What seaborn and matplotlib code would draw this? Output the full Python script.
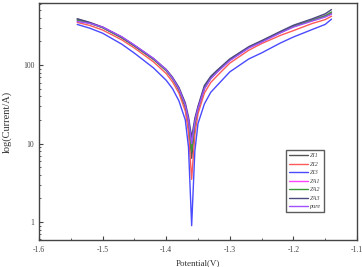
import matplotlib
matplotlib.use('Agg')
import matplotlib.pyplot as plt
from matplotlib.ticker import FixedLocator, FixedFormatter, MultipleLocator, LogLocator, NullFormatter
import seaborn as sns
import pandas as pd
import numpy as np

# potential (V)
potential = [-1.54, -1.52, -1.50, -1.47, -1.45, -1.42, -1.40, -1.39, -1.38, -1.37, -1.365, -1.36,
             -1.355, -1.35, -1.34, -1.33, -1.32, -1.30, -1.27, -1.25, -1.22, -1.20, -1.17, -1.15, -1.14]

ZI1 = [385, 345, 300, 222, 175, 118, 85, 67, 48, 29, 18, 6.5, 17, 27, 50, 68, 82, 116, 168, 200, 262, 310, 372, 418, 460]
ZI2 = [350, 320, 280, 210, 165, 110, 78, 61, 44, 26, 14, 3.5, 13, 24, 44, 60, 73, 106, 155, 188, 240, 275, 340, 380, 420]
ZI3 = [330, 295, 255, 185, 142, 92, 64, 50, 35, 20, 9, 0.9, 8, 18, 32, 45, 55, 82, 120, 143, 192, 228, 285, 330, 385]
ZA1 = [370, 345, 305, 228, 178, 120, 86, 68, 50, 31, 20, 9, 19, 29, 52, 70, 84, 118, 170, 202, 265, 315, 380, 430, 470]
ZA2 = [375, 340, 300, 225, 176, 119, 85, 67, 49, 30, 20, 8, 18, 28, 51, 69, 83, 117, 168, 200, 262, 312, 375, 425, 475]
ZA3 = [390, 350, 305, 228, 178, 121, 88, 70, 52, 33, 22, 12, 21, 30, 55, 72, 86, 120, 172, 205, 270, 322, 390, 450, 510]
pure = [360, 340, 305, 230, 180, 122, 87, 68, 50, 31, 20, 10, 19, 28, 50, 67, 81, 114, 165, 196, 258, 305, 365, 410, 445]

series_names = ['ZI1', 'ZI2', 'ZI3', 'ZA1', 'ZA2', 'ZA3', 'pure']
series_vals = [ZI1, ZI2, ZI3, ZA1, ZA2, ZA3, pure]
colors = ['#555555', '#ff5a5a', '#4a4aff', '#ff44ff', '#3a9a3a', '#4a4a80', '#a050ff']

rows = []
for name, vals in zip(series_names, series_vals):
    for p, v in zip(potential, vals):
        rows.append({'Potential': p, 'Current': v, 'sample': name})
df = pd.DataFrame(rows)

sns.set_style('white')
plt.rcParams['font.family'] = ['Liberation Serif', 'DejaVu Serif']

fig = plt.figure(figsize=(3.62, 2.67), dpi=100)
ax = fig.add_axes([0.108, 0.101, 0.878, 0.888])

sns.lineplot(data=df, x='Potential', y='Current', hue='sample', hue_order=series_names,
             palette=colors, linewidth=1.0, ax=ax, sort=False, estimator=None)

ax.set_yscale('log')
ax.set_xlim(-1.6, -1.1)
ax.set_ylim(0.59, 620)

ax.set_xticks([-1.6, -1.5, -1.4, -1.3, -1.2, -1.1])
ax.set_xticklabels(['-1.6', '-1.5', '-1.4', '-1.3', '-1.2', '-1.1'])
ax.xaxis.set_minor_locator(MultipleLocator(0.05))
ax.yaxis.set_major_locator(FixedLocator([1, 10, 100]))
ax.yaxis.set_major_formatter(FixedFormatter(['1', '10', '100']))
ax.yaxis.set_minor_locator(LogLocator(base=10, subs=np.arange(2, 10)))
ax.yaxis.set_minor_formatter(NullFormatter())

ax.tick_params(axis='both', which='major', direction='in', length=3, width=0.8,
               labelsize=5.5, labelcolor='#444444', color='#444444', left=True, bottom=True)
ax.tick_params(axis='both', which='minor', direction='in', length=1.5, width=0.6,
               color='#444444', left=True, bottom=True)
ax.tick_params(axis='x', pad=4)

for s in ax.spines.values():
    s.set_color('#444444')
    s.set_linewidth(1.0)

ax.set_xlabel('Potential(V)', fontsize=6.5, color='#333333', labelpad=4)
ax.set_ylabel('log(Current/A)', fontsize=7.5, color='#333333', labelpad=8)

leg = ax.legend(loc='lower right', bbox_to_anchor=(0.905, 0.105),
                handlelength=3.0, handletextpad=0.3, labelspacing=0.5,
                borderpad=0.45, frameon=True, fancybox=False, prop={'style': 'italic', 'size': 4.5})
leg.get_frame().set_edgecolor('#333333')
leg.get_frame().set_linewidth(1.0)
for t in leg.get_texts():
    t.set_color('#444444')

fig.savefig('out.png', dpi=100)
